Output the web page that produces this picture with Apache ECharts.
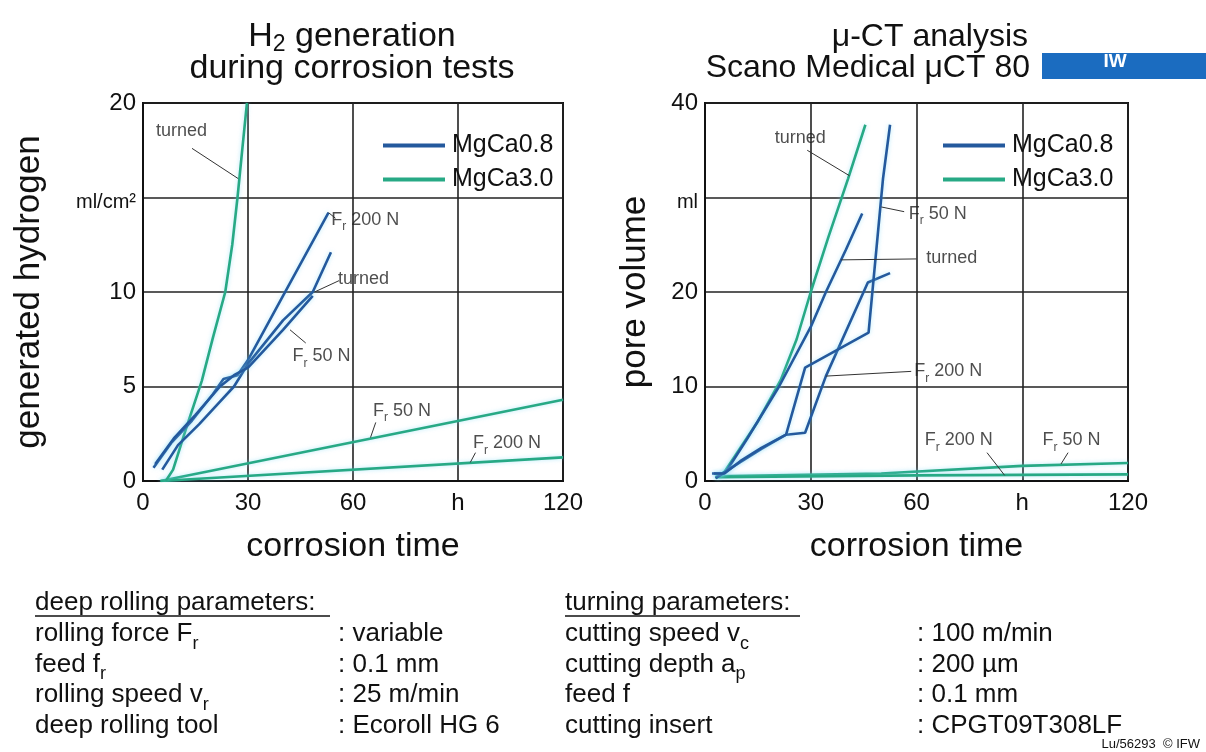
<!DOCTYPE html>
<html><head><meta charset="utf-8">
<script src="https://cdn.jsdelivr.net/npm/echarts@6/dist/echarts.min.js"></script>
<style>html,body{margin:0;padding:0;background:#fff}#c{width:1206px;height:752px}</style>
</head><body><div id="c"></div>
<script>
// ---------- data ----------
const xTickLabels = {0:'0', 30:'30', 60:'60', 90:'h', 120:'120'};
const h2TickLabels = {0:'0', 5:'5', 10:'10', 15:'{u|ml/cm²}', 20:'20'};
const pvTickLabels = {0:'0', 10:'10', 20:'20', 30:'{u|ml}', 40:'40'};
const legendNames = ['MgCa0.8', 'MgCa3.0'];

// H2 generation (ml/cm²) vs corrosion time (h)
const h2_MgCa30_turned = [[6.5,0],[8.6,0.6],[12,2.6],[16.8,5.3],[20,7.6],[23.5,10],[25.5,12.5],[27,15],[28.5,17.8],[29.7,20]];
const h2_MgCa30_50N    = [[5,0],[120,4.3]];
const h2_MgCa30_200N   = [[5,0],[120,1.25]];
const h2_MgCa08_200N   = [[3,0.7],[8,2],[14,3.2],[20,4.6],[23,5.4],[27,5.6],[30,6.4],[40,9.8],[53,14.2]];
const h2_MgCa08_turned = [[5.5,0.6],[10,1.9],[16,3],[22,4.2],[26,5],[30,6.2],[40,8.5],[48.5,10],[53.7,12.1]];
const h2_MgCa08_50N    = [[3.5,0.9],[9,2.3],[15,3.5],[22,5],[26,5.6],[30,6],[40,8],[48.5,9.8]];

// pore volume (ml) vs corrosion time (h)
const pv_MgCa30_turned = [[3,0.3],[5.6,1],[10,3.5],[15,6.3],[21.5,10.7],[26,15],[30,20],[35,25.8],[40.6,32],[45.5,37.7]];
const pv_MgCa30_50N    = [[3,0.5],[50,0.8],[90,1.6],[120,1.9]];
const pv_MgCa30_200N   = [[3,0.4],[60,0.6],[120,0.7]];
const pv_MgCa08_turned = [[3,0.3],[6,1],[12,4.5],[21,10],[30,16.3],[34.3,20],[40,24.5],[44.6,28.3]];
const pv_MgCa08_200N   = [[2,0.8],[5,0.8],[10,2],[16,3.4],[23,4.9],[28.4,5.1],[34.3,11.1],[46.2,21],[52.5,22]];
const pv_MgCa08_50N    = [[2.5,0.8],[5.5,0.8],[10,2.1],[16,3.5],[23,4.9],[28.4,12],[46.4,15.7],[50.5,32],[52.5,37.7]];

// annotations: text, label centre, leader start, leader tip (data coords)
const h2Notes = [
  {t:'turned',          at:[11,18.5],  from:[14,17.6], tip:[27.2,16]},
  {t:'F{s|r} 200 N',    at:[63.5,13.8],from:[55,13.9], tip:[53,14.2]},
  {t:'turned',          at:[63,10.7],  from:[56,10.6], tip:[49,10]},
  {t:'F{s|r} 50 N',     at:[51,6.6],   from:[46.5,7.3],tip:[42,8]},
  {t:'F{s|r} 50 N',     at:[74,3.7],   from:[66.5,3.1],tip:[65,2.3]},
  {t:'F{s|r} 200 N',    at:[104,2.0],  from:[95,1.5],  tip:[93.5,0.98]}
];
const pvNotes = [
  {t:'turned',          at:[27,36.3],  from:[29,35],   tip:[41,32.3]},
  {t:'F{s|r} 50 N',     at:[66,28.3],  from:[56.5,28.5],tip:[50,29]},
  {t:'turned',          at:[70,23.6],  from:[60,23.5], tip:[38.6,23.4]},
  {t:'F{s|r} 200 N',    at:[69,11.6],  from:[58.5,11.6],tip:[34.3,11.1]},
  {t:'F{s|r} 200 N',    at:[72,4.3],   from:[80,3.0],  tip:[85,0.6]},
  {t:'F{s|r} 50 N',     at:[104,4.3],  from:[103,3.0], tip:[101,1.8]}
];

// ---------- style ----------
const FONT = '"Liberation Sans", Arial, Helvetica, sans-serif';
const BLUE = '#24599d';
const GREEN = '#27a985';
const INK = '#111';

function curve(name, data, gi, color) {
  return {type:'line', name, xAxisIndex:gi, yAxisIndex:gi, data, symbol:'none', showSymbol:false,
    lineStyle:{color, width:2.6, shadowColor:'rgba(120,215,245,0.55)', shadowBlur:4},
    itemStyle:{color}, z:3, silent:true, animation:false};
}
function subStyle(size, color, drop) {
  const fs = Math.round(size * 0.68);
  return {fontSize:fs, lineHeight:fs, verticalAlign:'top', padding:[Math.round(size*(drop || 0.62)),0,0,0], fontFamily:FONT, color, fill:color};
}
function notes(list, gi) {
  const out = [];
  list.forEach(n => {
    out.push({type:'line', name:'leader', xAxisIndex:gi, yAxisIndex:gi, data:[n.from, n.tip], symbol:'none',
      lineStyle:{color:'#333', width:1}, z:4, silent:true, animation:false});
    out.push({type:'scatter', name:'note', xAxisIndex:gi, yAxisIndex:gi, data:[n.at], symbolSize:0, z:5,
      silent:true, animation:false, clip:false,
      label:{show:true, position:'inside', formatter:n.t, color:'#222', fontFamily:FONT, fontSize:18, lineHeight:20,
        rich:{s:subStyle(18, '#222')}}});
  });
  return out;
}
function xAxis(gi) {
  return {gridIndex:gi, type:'value', min:0, max:120, interval:30,
    axisLine:{show:true, onZero:false, lineStyle:{color:INK, width:2}}, axisTick:{show:false},
    splitLine:{show:true, lineStyle:{color:'#222', width:1.6}},
    axisLabel:{fontSize:24, color:INK, fontFamily:FONT, margin:10, formatter:v => xTickLabels[v] ?? ''},
    name:'corrosion time', nameLocation:'middle', nameGap:49,
    nameTextStyle:{fontSize:34, color:INK, fontFamily:FONT}};
}
function yAxis(gi, max, interval, labels, name, nameGap) {
  return {gridIndex:gi, type:'value', min:0, max, interval,
    axisLine:{show:true, onZero:false, lineStyle:{color:INK, width:2}}, axisTick:{show:false},
    splitLine:{show:true, lineStyle:{color:'#222', width:1.6}},
    axisLabel:{fontSize:24, color:INK, fontFamily:FONT, margin:7, formatter:v => labels[v] ?? '',
      rich:{u:{fontSize:20, color:INK, fontFamily:FONT, padding:[10,0,0,0]}}},
    name, nameLocation:'middle', nameGap, nameRotate:90,
    nameTextStyle:{fontSize:35, color:INK, fontFamily:FONT}};
}
function legend(left) {
  return {data:legendNames, orient:'vertical', left, top:128, icon:'rect', itemWidth:62, itemHeight:4, itemGap:9,
    selectedMode:false, textStyle:{fontSize:25, color:INK, fontFamily:FONT, padding:[0,0,0,2]}};
}
function txt(x, y, text, size, align, drop) {
  return {type:'text', x, y, silent:true, style:{text, fontSize:size, fontFamily:FONT, fill:INK,
    align:align || 'left', verticalAlign:'middle', lineHeight:size + 4,
    rich:{s:subStyle(size, INK, drop)}}};
}

const leftRows = [['rolling force F{s|r}', ': variable'], ['feed f{s|r}', ': 0.1 mm'],
  ['rolling speed v{s|r}', ': 25 m/min'], ['deep rolling tool', ': Ecoroll HG 6']];
const rightRows = [['cutting speed v{s|c}', ': 100 m/min'], ['cutting depth a{s|p}', ': 200 µm'],
  ['feed f', ': 0.1 mm'], ['cutting insert', ': CPGT09T308LF']];

const graphics = [
  txt(352, 37, 'H{s|2} generation', 34, 'center', 0.45),
  txt(352, 69, 'during corrosion tests', 34, 'center'),
  txt(1028, 37, 'μ-CT analysis', 32, 'right'),
  txt(1030, 68, 'Scano Medical μCT 80', 32, 'right'),
  {type:'rect', shape:{x:1042, y:53, width:164, height:26}, style:{fill:'#1b6cc0'}, silent:true},
  {type:'text', x:1115, y:62, silent:true, style:{text:'IW', fontSize:19, fontWeight:'bold', fontFamily:FONT, fill:'#fff', align:'center', verticalAlign:'middle'}},
  txt(35, 603, 'deep rolling parameters:', 26, 'left'),
  {type:'line', shape:{x1:35, y1:616, x2:330, y2:616}, style:{stroke:INK, lineWidth:1.3}, silent:true},
  txt(565, 603, 'turning parameters:', 26, 'left'),
  {type:'line', shape:{x1:565, y1:616, x2:800, y2:616}, style:{stroke:INK, lineWidth:1.3}, silent:true},
  {type:'text', x:1200, y:744, silent:true, style:{text:'Lu/56293  © IFW', fontSize:13, fontFamily:FONT, fill:INK, align:'right', verticalAlign:'middle'}}
];
leftRows.forEach((r, i) => { graphics.push(txt(35, 634 + i*30.5, r[0], 26, 'left')); graphics.push(txt(338, 634 + i*30.5, r[1], 26, 'left')); });
rightRows.forEach((r, i) => { graphics.push(txt(565, 634 + i*30.5, r[0], 26, 'left')); graphics.push(txt(917, 634 + i*30.5, r[1], 26, 'left')); });

const series = [
  curve('MgCa3.0', h2_MgCa30_50N, 0, GREEN), curve('MgCa3.0', h2_MgCa30_200N, 0, GREEN), curve('MgCa3.0', h2_MgCa30_turned, 0, GREEN),
  curve('MgCa0.8', h2_MgCa08_200N, 0, BLUE), curve('MgCa0.8', h2_MgCa08_turned, 0, BLUE), curve('MgCa0.8', h2_MgCa08_50N, 0, BLUE),
  curve('MgCa3.0', pv_MgCa30_50N, 1, GREEN), curve('MgCa3.0', pv_MgCa30_200N, 1, GREEN), curve('MgCa3.0', pv_MgCa30_turned, 1, GREEN),
  curve('MgCa0.8', pv_MgCa08_turned, 1, BLUE), curve('MgCa0.8', pv_MgCa08_200N, 1, BLUE), curve('MgCa0.8', pv_MgCa08_50N, 1, BLUE),
  ...notes(h2Notes, 0), ...notes(pvNotes, 1)
];

const chart = echarts.init(document.getElementById('c'), null, {renderer:'canvas'});
chart.setOption({
  animation:false,
  backgroundColor:'#fff',
  grid:[{left:143, top:103, width:420, height:378, show:true, borderColor:INK, borderWidth:2, backgroundColor:'transparent'},
        {left:705, top:103, width:423, height:378, show:true, borderColor:INK, borderWidth:2, backgroundColor:'transparent'}],
  xAxis:[xAxis(0), xAxis(1)],
  yAxis:[yAxis(0, 20, 5, h2TickLabels, 'generated hydrogen', 96), yAxis(1, 40, 10, pvTickLabels, 'pore volume', 52)],
  legend:[legend(378), legend(938)],
  series,
  graphic:graphics
});
</script></body></html>
